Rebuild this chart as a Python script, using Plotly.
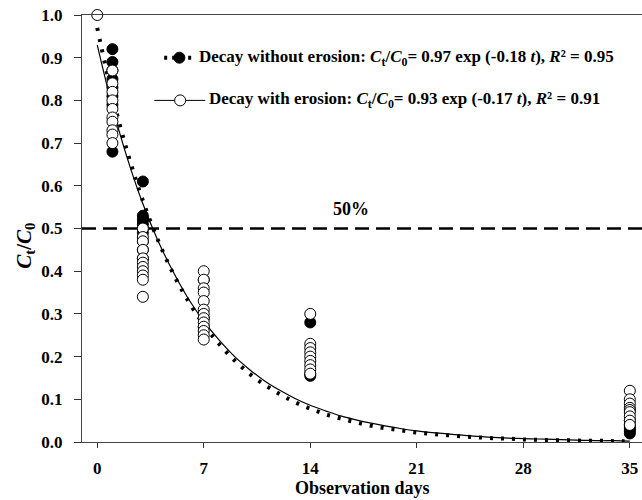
import plotly.graph_objects as go

# ---- data ----
days_curve = list(range(0, 36))
fit_without = [0.970, 0.810, 0.677, 0.565, 0.472, 0.394, 0.329, 0.275, 0.230, 0.192,
               0.160, 0.134, 0.112, 0.093, 0.078, 0.065, 0.055, 0.046, 0.038, 0.032,
               0.027, 0.022, 0.019, 0.016, 0.013, 0.011, 0.009, 0.008, 0.006, 0.005,
               0.004, 0.004, 0.003, 0.003, 0.002, 0.002]
fit_with = [0.930, 0.785, 0.662, 0.558, 0.471, 0.398, 0.335, 0.283, 0.239, 0.201,
            0.170, 0.143, 0.121, 0.102, 0.086, 0.073, 0.061, 0.052, 0.044, 0.037,
            0.031, 0.026, 0.022, 0.019, 0.016, 0.013, 0.011, 0.009, 0.008, 0.007,
            0.006, 0.005, 0.004, 0.003, 0.003, 0.002]

without_days = [1]*8 + [3]*9 + [7]*3 + [14]*3 + [35]*6
without_vals = [0.92, 0.89, 0.87, 0.85, 0.83, 0.81, 0.79, 0.68,
                0.61, 0.53, 0.52, 0.51, 0.50, 0.49, 0.47, 0.45, 0.43,
                0.38, 0.29, 0.27,
                0.28, 0.16, 0.155,
                0.05, 0.04, 0.035, 0.03, 0.025, 0.02]

with_days = [0] + [1]*10 + [3]*11 + [7]*13 + [14]*9 + [35]*9
with_vals = [1.00,
             0.87, 0.84, 0.82, 0.80, 0.78, 0.76, 0.75, 0.73, 0.72, 0.70,
             0.50, 0.48, 0.47, 0.45, 0.43, 0.42, 0.41, 0.40, 0.39, 0.38, 0.34,
             0.40, 0.38, 0.36, 0.35, 0.33, 0.31, 0.30, 0.29, 0.28, 0.27, 0.26, 0.25, 0.24,
             0.30, 0.23, 0.22, 0.21, 0.20, 0.19, 0.18, 0.17, 0.16,
             0.12, 0.10, 0.09, 0.08, 0.075, 0.07, 0.06, 0.05, 0.04]

x_ticks = [0, 7, 14, 21, 28, 35]
y_ticks = [0.0, 0.1, 0.2, 0.3, 0.4, 0.5, 0.6, 0.7, 0.8, 0.9, 1.0]
threshold = 0.5

legend_without = ("Decay without erosion: <i>C</i><sub>t</sub>/<i>C</i><sub>0</sub>= 0.97 exp (-0.18 <i>t</i>), "
                  "<i>R</i>² = 0.95")
legend_with = ("Decay with erosion: <i>C</i><sub>t</sub>/<i>C</i><sub>0</sub>= 0.93 exp (-0.17 <i>t</i>), "
               "<i>R</i>² = 0.91")

FONT = "Liberation Serif"

fig = go.Figure()

# fitted curves
fig.add_trace(go.Scatter(x=days_curve, y=fit_with, mode="lines", line_shape="spline",
                         line=dict(color="black", width=1.2), showlegend=False))
fig.add_trace(go.Scatter(x=days_curve, y=fit_without, mode="lines", line_shape="spline",
                         line=dict(color="black", width=4, dash="3px,8px"), showlegend=False))

# observations
fig.add_trace(go.Scatter(x=without_days, y=without_vals, mode="markers",
                         marker=dict(symbol="circle", size=11, color="black",
                                     line=dict(color="black", width=1)),
                         showlegend=False, cliponaxis=False))
fig.add_trace(go.Scatter(x=with_days, y=with_vals, mode="markers",
                         marker=dict(symbol="circle", size=11, color="white",
                                     line=dict(color="black", width=1)),
                         showlegend=False, cliponaxis=False))

# 50% line
fig.add_shape(type="line", xref="paper", x0=0, x1=1, yref="y", y0=threshold, y1=threshold,
              line=dict(color="black", width=2.5, dash="14px,7px"), layer="below")
fig.add_annotation(x=16.7, y=threshold, yshift=20, text="<b>50%</b>", showarrow=False,
                   font=dict(family=FONT, size=18, color="black"))

# custom legend
ly1, ly2 = 0.9, 0.8
fig.add_shape(type="line", x0=4.4, x1=6.45, y0=ly1, y1=ly1,
              line=dict(color="black", width=4, dash="3px,5px"))
fig.add_shape(type="circle", xsizemode="pixel", ysizemode="pixel", xanchor=5.4, yanchor=ly1,
              x0=-5.5, x1=5.5, y0=-5.5, y1=5.5, fillcolor="black", line=dict(color="black", width=1))
fig.add_annotation(x=6.55, y=ly1, xanchor="left", text="<b>" + legend_without + "</b>",
                   showarrow=False, font=dict(family=FONT, size=17, color="black"))
fig.add_shape(type="line", x0=3.75, x1=7.1, y0=ly2, y1=ly2,
              line=dict(color="black", width=1))
fig.add_shape(type="circle", xsizemode="pixel", ysizemode="pixel", xanchor=5.45, yanchor=ly2,
              x0=-5.5, x1=5.5, y0=-5.5, y1=5.5, fillcolor="white", line=dict(color="black", width=1))
fig.add_annotation(x=7.2, y=ly2, xanchor="left", text="<b>" + legend_with + "</b>",
                   showarrow=False, font=dict(family=FONT, size=17, color="black"))

# axis titles
fig.add_annotation(xref="paper", yref="paper", x=-0.13, y=0.46, textangle=-90,
                   text="<b><i>C</i><sub>t</sub>/<i>C</i><sub>0</sub></b>", showarrow=False,
                   font=dict(family=FONT, size=21, color="black"))
fig.add_annotation(xref="paper", yref="paper", x=0.5, y=-0.108, yanchor="middle",
                   text="<b>Observation days</b>", showarrow=False,
                   font=dict(family=FONT, size=18, color="black"))

fig.update_layout(
    width=642, height=500,
    margin=dict(l=82, r=0, t=15, b=58),
    paper_bgcolor="white", plot_bgcolor="white",
    font=dict(family=FONT, color="black"),
    showlegend=False,
)
fig.update_xaxes(range=[-1.0, 35.8], tickvals=x_ticks, ticks="outside", ticklen=5,
                 tickcolor="#333", showline=True, linecolor="#444", linewidth=1.2, mirror=True,
                 showgrid=False, zeroline=False, ticklabelstandoff=5,
                 tickfont=dict(family=FONT, size=17, color="black", weight="bold"))
fig.update_yaxes(range=[0, 1.0], tickvals=y_ticks, tickformat=".1f", ticks="outside", ticklen=7,
                 tickcolor="#333", showline=True, linecolor="#444", linewidth=1.2,
                 showgrid=False, zeroline=False, ticklabelstandoff=8,
                 tickfont=dict(family=FONT, size=17, color="black", weight="bold"))

fig.write_html("out.html")
